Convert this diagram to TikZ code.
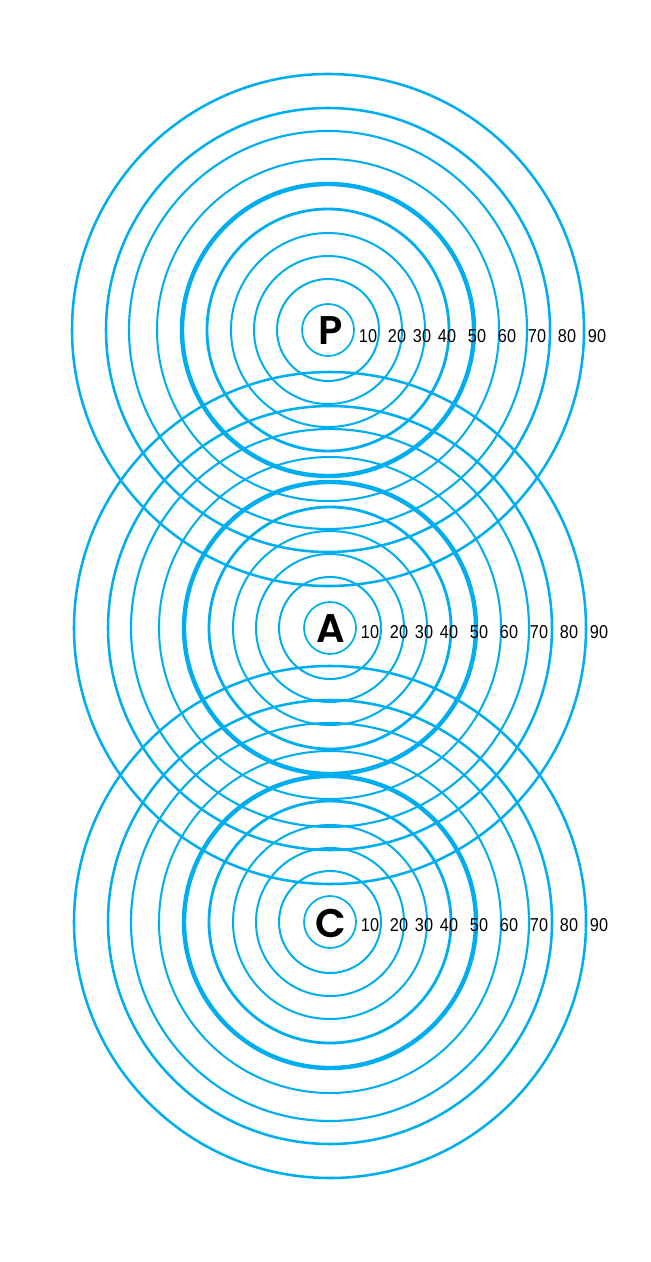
\documentclass[tikz,border=0pt]{standalone}
\usepackage{fontspec}
\setmainfont{Liberation Sans}
\newfontfamily\numfont{Liberation Sans}[FakeStretch=0.87]
\newfontfamily\letterfont{Poppins}[UprightFont=* SemiBold]
\definecolor{ringblue}{RGB}{0,174,239}

\begin{document}
\begin{tikzpicture}[x=0.75pt,y=0.75pt,
    ring/.style={draw=ringblue,line width=#1},
    deg/.style={inner sep=0pt,font=\numfont\fontsize{14}{14}\selectfont},
    letter/.style={inner sep=0pt,font=\letterfont\fontsize{30}{30}\selectfont}]
  \useasboundingbox (0,0) rectangle (650,-1262);
  % three sets of rings
  \foreach \name/\cx/\cy/\ly in {P/328/330/336,A/330/628/632,C/330/922/925} {
    \foreach \r/\w in {26/1.3pt,51/1.5pt,74/1.5pt,97/1.5pt,121/2.1pt,
                       146/3.3pt,171/1.5pt,199/1.6pt,222/1.9pt,256/1.9pt}
      \draw[ring=\w] (\cx,-\cy) circle (\r);
    % letter and degree labels
    \node[letter] (\name) at (331,-\cy-1) {\name};
    \foreach \n/\dx in {10/40,20/69,30/94,40/119,50/149,60/179,70/209,80/239,90/269}
      \node[deg] (\name-\n) at (\cx+\dx,-\ly) {\n};
  }
\end{tikzpicture}
\end{document}
